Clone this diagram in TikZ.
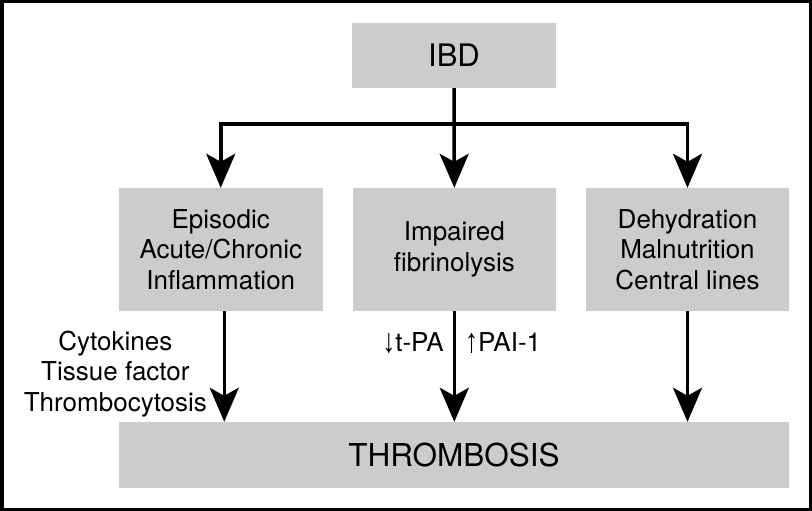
\documentclass[tikz,border=0pt]{standalone}
\usepackage{fontspec}
\setmainfont{TeX Gyre Heros}
\newfontfamily\arrfont{Liberation Sans}
\usetikzlibrary{arrows.meta}
\definecolor{boxgray}{RGB}{204,204,204}
\newcommand\tallarrow[1]{\raisebox{-1pt}{\scalebox{1}[1.3]{\arrfont #1}}}
\tikzset{
  gbox/.style={fill=boxgray, draw=none, inner sep=0pt, align=center,
    font=\fontsize{26}{30.5}\selectfont},
  conn/.style={line width=3.5pt, line join=miter,
    -{Stealth[length=34pt, width=29pt, inset=8pt]}},
  lbl/.style={inner sep=0pt, align=center, font=\fontsize{26}{30.5}\selectfont}
}
\begin{document}
\begin{tikzpicture}[x=1pt, y=-1pt]
\useasboundingbox (0,0) rectangle (812,511);
\draw[line width=3.5pt] (1.75,1.75) rectangle (810.25,509.25);

\node[gbox, minimum width=204pt, minimum height=65pt, font=\fontsize{31}{36}\selectfont] (ibd) at (454,55.5) {IBD};
\node[gbox, minimum width=203.5pt, minimum height=123pt] (left) at (220.75,249.5) {Episodic\\Acute/Chronic\\Inflammation};
\node[gbox, minimum width=203.5pt, minimum height=123pt] (mid) at (454.3,249.5) {Impaired\\fibrinolysis};
\node[gbox, minimum width=203.5pt, minimum height=123pt] (right) at (687.5,249.5) {Dehydration\\Malnutrition\\Central lines};
\node[gbox, minimum width=670pt, minimum height=66pt, font=\fontsize{31.5}{36}\selectfont] (bot) at (454,455) {THROMBOSIS};

\coordinate (hb) at (ibd.south |- 0,124);
\draw[conn] (ibd.south) -- (mid.north);
\draw[conn] (hb) -| (left.north);
\draw[conn] (hb) -| (right.north);

\draw[conn] ([xshift=3.5pt]left.south) -- ([xshift=3.5pt]left.south |- bot.north);
\draw[conn] (mid.south) -- (mid.south |- bot.north);
\draw[conn] (right.south) -- (right.south |- bot.north);

\node[lbl] (causes) at (115.4,374) {Cytokines\\Tissue factor\\Thrombocytosis};
\node[lbl, anchor=base east] (tpa) at (444,351.5) {\tallarrow{↓}t-PA};
\node[lbl, anchor=base west] (pai) at (465,351.5) {\tallarrow{↑}PAI-1};
\end{tikzpicture}
\end{document}
